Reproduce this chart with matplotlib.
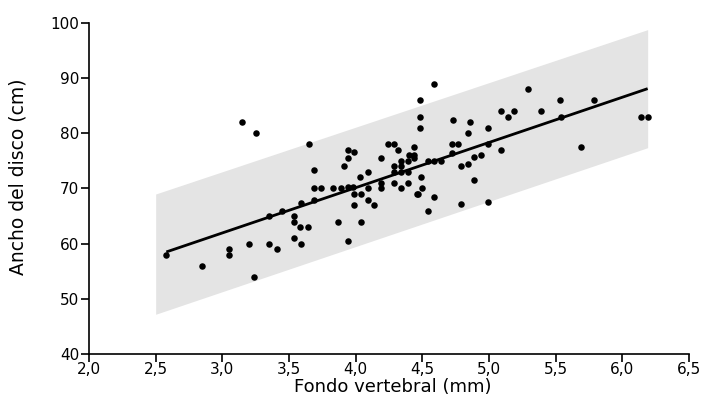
import matplotlib
matplotlib.use("Agg")
import matplotlib.pyplot as plt

# Data
x_vals = [2.58, 2.85, 3.05, 3.05, 3.15, 3.20, 3.25, 3.24, 3.35, 3.35, 3.41, 3.45,
          3.54, 3.54, 3.54, 3.58, 3.59, 3.59, 3.64, 3.65,
          3.69, 3.69, 3.74, 3.69, 3.83, 3.89, 3.94, 3.87, 3.94, 3.91, 3.94, 3.94,
          3.99, 3.98, 3.99, 3.99, 4.04, 4.03, 4.04, 4.09, 4.09, 4.09, 4.14,
          4.19, 4.19, 4.19, 4.24, 4.29, 4.32, 4.29, 4.29, 4.29,
          4.34, 4.34, 4.34, 4.34, 4.39, 4.39, 4.39, 4.40, 4.44, 4.44, 4.44,
          4.48, 4.48, 4.48, 4.49, 4.50, 4.46, 4.47,
          4.54, 4.59, 4.64, 4.59, 4.54, 4.59,
          4.73, 4.86, 4.84, 4.72, 4.77, 4.72, 4.79, 4.84, 4.89, 4.94,
          4.99, 4.99, 4.89, 4.79, 4.99,
          5.09, 5.14, 5.19, 5.09, 5.29, 5.39, 5.53, 5.54, 5.79, 5.69, 6.14, 6.19]
y_vals = [58.0, 56.0, 59.0, 58.0, 82.0, 60.0, 80.0, 54.0, 65.0, 60.0, 59.0, 66.0,
          65.0, 64.0, 61.0, 63.0, 67.4, 60.0, 63.0, 78.0,
          73.4, 70.0, 70.0, 68.0, 70.0, 70.0, 70.3, 64.0, 60.5, 74.0, 75.5, 77.0,
          76.6, 70.3, 69.0, 67.0, 69.0, 72.0, 64.0, 73.0, 70.0, 68.0, 67.0,
          75.5, 71.0, 70.0, 78.0, 78.0, 77.0, 74.0, 73.0, 71.0,
          75.0, 74.0, 73.0, 70.0, 75.0, 73.0, 71.0, 76.0, 77.5, 76.0, 75.5,
          86.0, 83.0, 81.0, 72.0, 70.0, 69.0, 69.0,
          75.0, 75.0, 75.0, 89.0, 66.0, 68.5,
          82.5, 82.0, 80.0, 78.0, 78.0, 76.5, 74.0, 74.5, 75.7, 76.0,
          81.0, 78.0, 71.5, 67.2, 67.5,
          84.0, 83.0, 84.0, 77.0, 88.0, 84.0, 86.0, 83.0, 86.0, 77.5, 83.0, 83.0]

line_x = [2.58, 6.19]
line_y = [58.5, 88.1]

band_x = [2.5, 6.19]
band_lower = [47.2, 77.4]
band_upper = [69.0, 98.8]

x_ticks = [2.0, 2.5, 3.0, 3.5, 4.0, 4.5, 5.0, 5.5, 6.0, 6.5]
x_tick_labels = ["2,0", "2,5", "3,0", "3,5", "4,0", "4,5", "5,0", "5,5", "6,0", "6,5"]
y_ticks = [40, 50, 60, 70, 80, 90, 100]

fig = plt.figure(figsize=(7.03, 4.12), dpi=100)
ax = fig.add_axes([89 / 703, 1 - 354 / 412, 600 / 703, 331 / 412])

ax.fill_between(band_x, band_lower, band_upper, color="#e4e4e4", linewidth=0, zorder=1)
ax.plot(line_x, line_y, color="black", linewidth=2.0, zorder=2, solid_capstyle="butt")
ax.scatter(x_vals, y_vals, s=22, color="black", zorder=3, linewidths=0)

ax.set_xlim(2.0, 6.5)
ax.set_ylim(40, 100)
ax.set_xticks(x_ticks)
ax.set_xticklabels(x_tick_labels)
ax.set_yticks(y_ticks)

for s in ["top", "right"]:
    ax.spines[s].set_visible(False)
for s in ["left", "bottom"]:
    ax.spines[s].set_linewidth(1.2)
    ax.spines[s].set_color("black")

ax.tick_params(axis="both", direction="out", length=5.5, width=1.2, labelsize=11,
               colors="black")
ax.tick_params(axis="y", pad=1.5)
ax.tick_params(axis="x", pad=0.5)

ax.set_xlabel("Fondo vertebral (mm)", fontsize=13)
ax.set_ylabel("Ancho del disco (cm)", fontsize=13.5)
ax.xaxis.set_label_coords((393 - 89) / 600, (354 - 378) / 331)
ax.yaxis.set_label_coords((28 - 89) / 600, (354 - 177) / 331)

fig.savefig("out.png", dpi=100)
